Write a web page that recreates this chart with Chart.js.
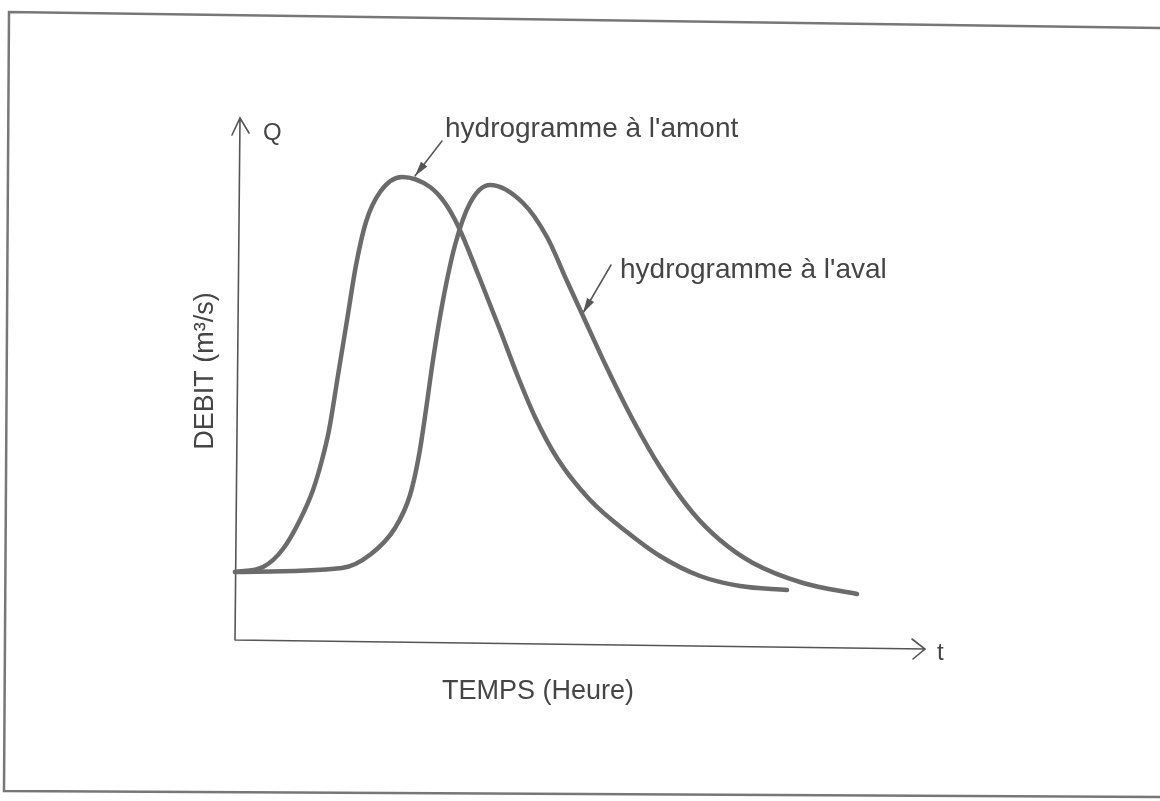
<!DOCTYPE html>
<html>
<head>
<meta charset="utf-8">
<script src="https://cdn.jsdelivr.net/npm/chart.js@4/dist/chart.umd.min.js"></script>
<style>
  html, body { margin: 0; padding: 0; background: #fff; }
  canvas { display: block; }
</style>
</head>
<body>
<canvas id="hydro" width="1160" height="801"></canvas>
<script>
const tAmont = [0, 1.87, 3.2, 4.33, 5.2, 5.8, 6.27, 6.87, 7.47, 8.07, 8.73, 9.67, 11.13, 13.0, 14.0, 14.87, 16.33, 17.67, 18.87, 20.0, 21.47, 23.67, 26.13, 28.33, 31.0, 33.67, 36.8];
const qAmont = [13.6, 14.6, 18.2, 24.0, 30.0, 36.0, 42.0, 53.0, 64.0, 75.0, 83.6, 89.6, 92.6, 90.6, 87.4, 82.8, 72.2, 62.0, 52.6, 44.6, 36.4, 28.0, 21.6, 16.8, 12.8, 10.8, 10.0];

const tAval = [0, 7.13, 9.07, 10.67, 11.67, 12.27, 12.73, 13.2, 13.87, 14.67, 15.67, 17.0, 19.2, 20.8, 22.13, 23.2, 24.8, 26.53, 28.33, 30.53, 32.33, 34.53, 37.87, 41.47];
const qAval = [13.6, 14.4, 17.2, 22.4, 29.0, 37.0, 46.0, 56.0, 68.0, 79.0, 87.4, 91.0, 87.4, 80.6, 71.8, 64.8, 54.4, 44.0, 34.6, 25.4, 20.0, 15.4, 11.4, 9.2];

const tMax = 46;
const qMax = 104;

const xTitle = 'TEMPS (Heure)';
const yTitle = 'DEBIT (m³/s)';
const labelAmont = "hydrogramme à l'amont";
const labelAval = "hydrogramme à l'aval";

const ink = '#454545';
const curve = '#6b6b6b';
const FONT = '"Liberation Sans", Arial, sans-serif';

function pts(ts, qs) {
  return ts.map((t, i) => ({ x: t, y: qs[i] }));
}

function arrowHead(ctx, x0, y0, x1, y1, len, half) {
  const a = Math.atan2(y1 - y0, x1 - x0);
  ctx.beginPath();
  ctx.moveTo(x1, y1);
  ctx.lineTo(x1 - len * Math.cos(a) + half * Math.sin(a), y1 - len * Math.sin(a) - half * Math.cos(a));
  ctx.lineTo(x1 - len * Math.cos(a) - half * Math.sin(a), y1 - len * Math.sin(a) + half * Math.cos(a));
  ctx.closePath();
  ctx.fill();
}

// cadre + axes avec fleches + textes
const sketch = {
  id: 'sketch',
  beforeDraw(chart) {
    const ctx = chart.ctx;
    ctx.save();
    ctx.fillStyle = '#fff';
    ctx.fillRect(0, 0, chart.width, chart.height);
    ctx.strokeStyle = '#777';
    ctx.lineWidth = 2.5;
    ctx.beginPath();
    ctx.moveTo(1160, 28);
    ctx.lineTo(9, 12);
    ctx.lineTo(4, 791);
    ctx.lineTo(1160, 797);
    ctx.stroke();
    ctx.restore();
  },
  beforeDatasetsDraw(chart) {
    const ctx = chart.ctx;
    const xs = chart.scales.x, ys = chart.scales.y;
    const x0 = xs.getPixelForValue(0), y0 = ys.getPixelForValue(0);
    const xEnd = xs.getPixelForValue(tMax), yTop = ys.getPixelForValue(qMax);
    ctx.save();
    ctx.strokeStyle = '#555';
    ctx.lineWidth = 1.6;
    ctx.lineCap = 'round';
    // axe Q
    ctx.beginPath();
    ctx.moveTo(x0, y0);
    ctx.lineTo(x0 + 5, yTop - 2);
    ctx.moveTo(x0 - 3, yTop + 15);
    ctx.lineTo(x0 + 5, yTop - 2);
    ctx.lineTo(x0 + 14, yTop + 13);
    // axe t
    ctx.moveTo(x0, y0);
    ctx.lineTo(xEnd, y0 + 9);
    ctx.moveTo(xEnd - 13, y0 - 1);
    ctx.lineTo(xEnd, y0 + 9);
    ctx.lineTo(xEnd - 12, y0 + 19);
    ctx.stroke();

    ctx.fillStyle = ink;
    ctx.textBaseline = 'alphabetic';
    ctx.font = '24px ' + FONT;
    ctx.fillText('Q', 263, 140);
    ctx.fillText('t', 937, 660);

    ctx.font = '27px ' + FONT;
    ctx.textAlign = 'center';
    ctx.fillText(xTitle, 538, 699);
    ctx.save();
    ctx.translate(213, 371);
    ctx.rotate(-Math.PI / 2);
    ctx.fillText(yTitle, 0, 0);
    ctx.restore();

    ctx.font = '28px ' + FONT;
    ctx.textAlign = 'left';
    ctx.fillText(labelAmont, 445, 137);
    ctx.fillText(labelAval, 620, 278);

    // fleches d'annotation
    ctx.strokeStyle = '#555';
    ctx.fillStyle = '#555';
    ctx.lineWidth = 1.5;
    const notes = [
      { t: 12.0, q: 92.4, dx: 27, dy: -35 },
      { t: 23.2, q: 65.0, dx: 28, dy: -48 }
    ];
    notes.forEach(n => {
      const tx = xs.getPixelForValue(n.t), ty = ys.getPixelForValue(n.q) - 2;
      ctx.beginPath();
      ctx.moveTo(tx + n.dx, ty + n.dy);
      ctx.lineTo(tx, ty);
      ctx.stroke();
      arrowHead(ctx, tx + n.dx, ty + n.dy, tx, ty, 15, 4);
    });
    ctx.restore();
  }
};

new Chart(document.getElementById('hydro').getContext('2d'), {
  type: 'scatter',
  data: {
    datasets: [
      { label: labelAmont, data: pts(tAmont, qAmont) },
      { label: labelAval, data: pts(tAval, qAval) }
    ].map(d => Object.assign(d, {
      showLine: true,
      borderColor: curve,
      borderWidth: 4.5,
      pointRadius: 0,
      cubicInterpolationMode: 'monotone',
      borderCapStyle: 'round',
      clip: false
    }))
  },
  options: {
    responsive: false,
    animation: false,
    layout: { padding: { left: 235, right: 235, top: 120, bottom: 161 } },
    scales: {
      x: { type: 'linear', min: 0, max: tMax, display: false },
      y: { type: 'linear', min: 0, max: qMax, display: false }
    },
    plugins: { legend: { display: false }, tooltip: { enabled: false } }
  },
  plugins: [sketch]
});
</script>
</body>
</html>
